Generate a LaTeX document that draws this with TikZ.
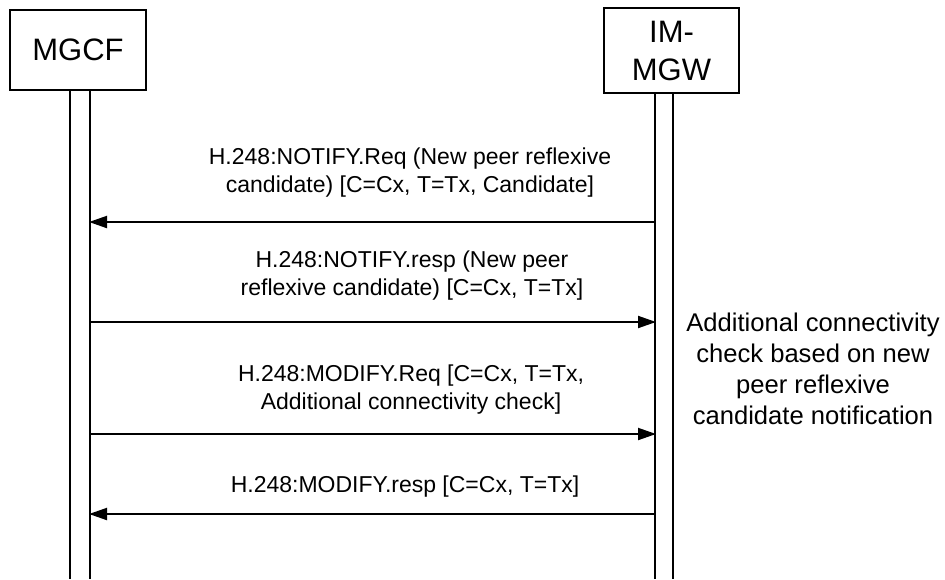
\documentclass[tikz,border=0pt]{standalone}
\usepackage{fontspec}
\setmainfont{Liberation Sans}
\usetikzlibrary{
  arrows.meta,
  positioning
}

\begin{document}
\begin{tikzpicture}[
    x=0.5pt,
    y=-0.5pt,
    >={Triangle[length=9pt,width=6pt]},
    entidade/.style={
        draw,
        line width=1pt,
        minimum width=68pt,
        minimum height=40pt,
        align=center,
        inner sep=0pt,
        font=\fontsize{15.5}{19}\selectfont
    },
    vida/.style={
        line width=1pt
    },
    msg/.style={
        ->,
        line width=1pt,
        shorten >=-0.5pt
    },
    rotulo/.style={
        align=center,
        inner sep=0pt,
        font=\fontsize{11.5}{14}\selectfont
    },
    nota/.style={
        align=center,
        inner sep=0pt,
        font=\fontsize{12.8}{15.5}\selectfont
    }
]

\useasboundingbox (0,0) rectangle (945,579);

% ============================================================
% ENTIDADES
% ============================================================

\node[entidade] (mgcf) at (78,50) {MGCF};
\node[entidade, minimum width=67.5pt, minimum height=42.5pt] (mgw) at (671.5,50.5) {IM-\\MGW};

% ============================================================
% LINHAS DE VIDA
% ============================================================

\coordinate (mgcfL) at (70,579);
\coordinate (mgcfR) at (90,579);
\coordinate (mgwL) at (655,579);
\coordinate (mgwR) at (673,579);

\draw[vida] (mgcfL |- mgcf.south) -- (mgcfL);
\draw[vida] (mgcfR |- mgcf.south) -- (mgcfR);
\draw[vida] (mgwL |- mgw.south) -- (mgwL);
\draw[vida] (mgwR |- mgw.south) -- (mgwR);

% ============================================================
% MENSAGENS
% ============================================================

\coordinate (m1) at (0,222);
\coordinate (m2) at (0,322);
\coordinate (m3) at (0,434);
\coordinate (m4) at (0,514);

\draw[msg] (mgwL |- m1) -- (mgcfR |- m1);
\draw[msg] (mgcfR |- m2) -- (mgwL |- m2);
\draw[msg] (mgcfR |- m3) -- (mgwL |- m3);
\draw[msg] (mgwL |- m4) -- (mgcfR |- m4);

% ============================================================
% ROTULOS
% ============================================================

\node[rotulo] (r1) at (410,173) {H.248:NOTIFY.Req (New peer reflexive\\candidate) [C=Cx, T=Tx, Candidate]};
\node[rotulo] (r2) at (412,276) {H.248:NOTIFY.resp (New peer\\reflexive candidate) [C=Cx, T=Tx]};
\node[rotulo] (r3) at (411,390) {H.248:MODIFY.Req [C=Cx, T=Tx,\\Additional connectivity check]};
\node[rotulo] (r4) at (405,487) {H.248:MODIFY.resp [C=Cx, T=Tx]};

\node[nota] (obs) at (813,368.5) {Additional connectivity\\check based on new\\peer reflexive\\candidate notification};

\end{tikzpicture}
\end{document}
